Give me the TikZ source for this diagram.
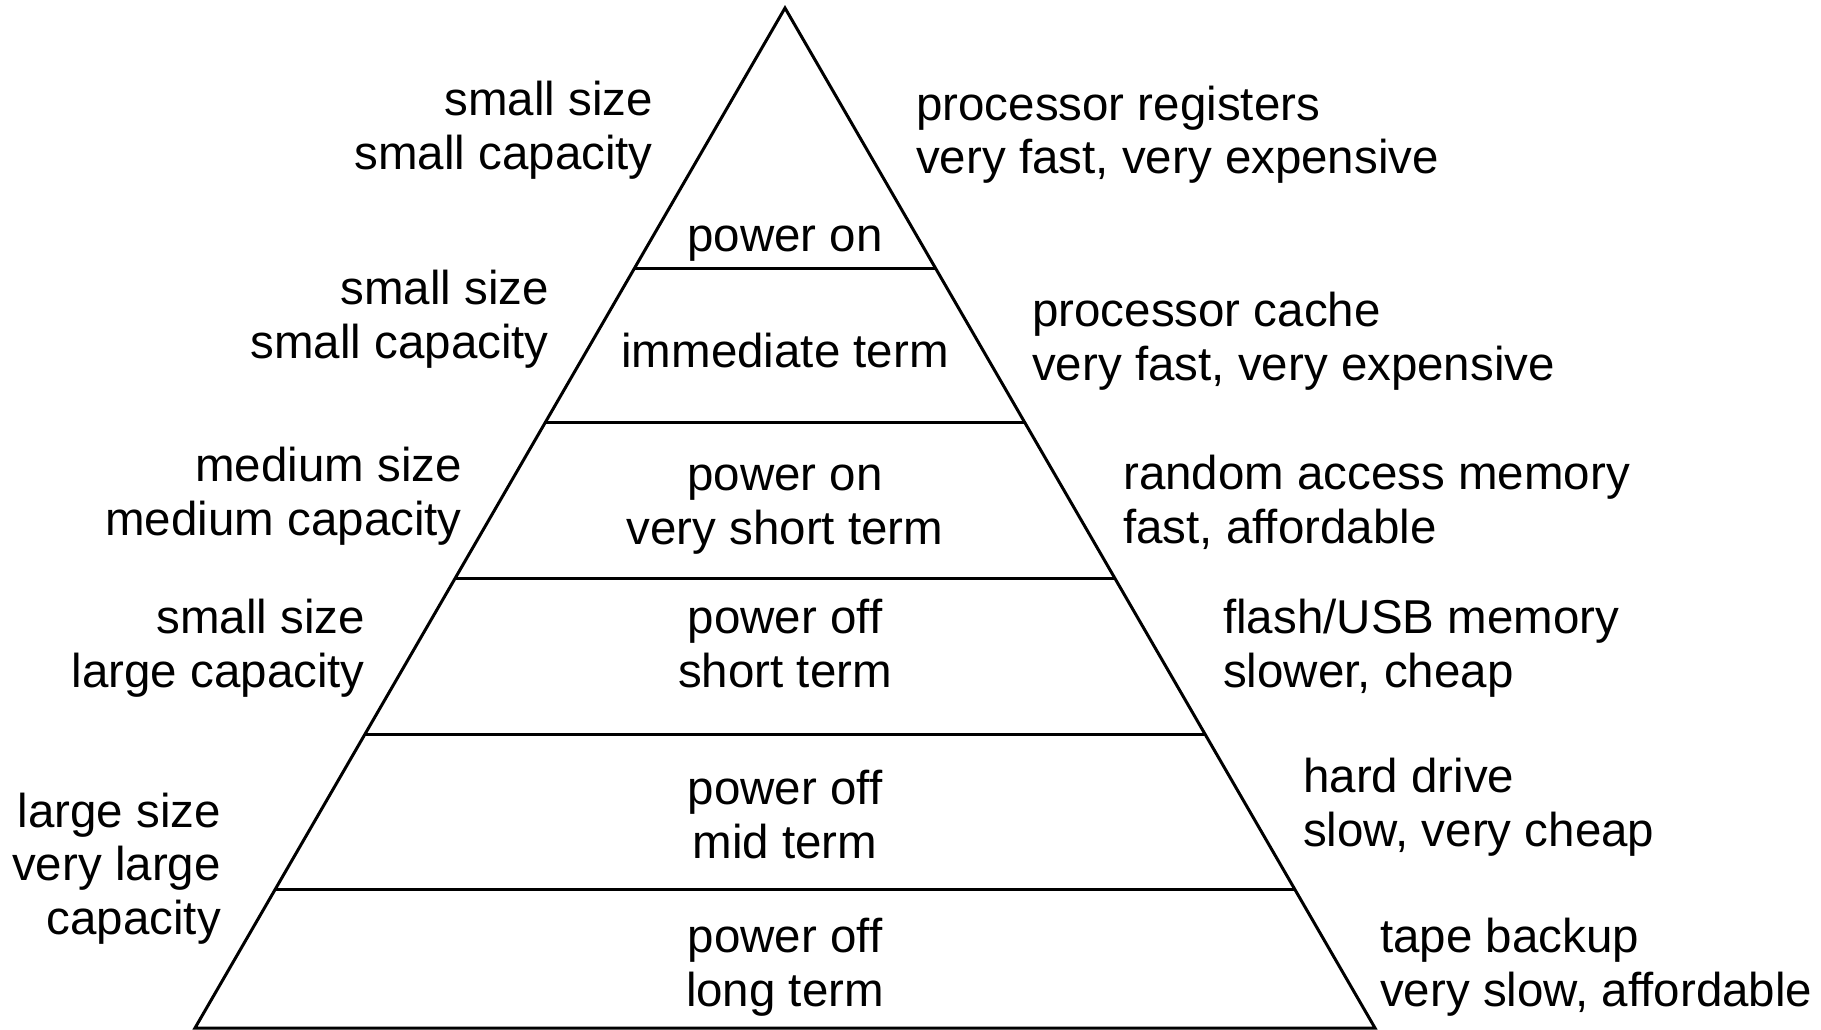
\documentclass[tikz,border=0pt]{standalone}
\usepackage{fontspec}
\setmainfont{Liberation Sans}
\usetikzlibrary{calc}
\begin{document}
\begin{tikzpicture}[x=1pt,y=-1pt,
  edge/.style={line width=3pt, line join=miter},
  lbl/.style={inner sep=0pt, font=\fontsize{47.5}{53.4}\selectfont},
  % multi-line labels are placed by the baseline of their last line
  leftlbl/.style={lbl, align=right, anchor=base east},
  rightlbl/.style={lbl, align=left, anchor=base west},
  midlbl/.style={lbl, align=center, anchor=base}]
\useasboundingbox (0,0) rectangle (1821,1030);
% pyramid outline
\coordinate (apex) at (785,8);
\coordinate (bl) at (195,1028);
\coordinate (br) at (1375,1028);
\draw[edge] (apex) -- (bl) -- (br) -- cycle;
% level dividers
\foreach \t [count=\i] in {0.2552,0.4067,0.5592,0.7118,0.8643}
  \draw[edge] ($(apex)!\t!(bl)$) coordinate (d\i l) -- ($(apex)!\t!(br)$) coordinate (d\i r);
% level contents
\node[midlbl] (c1) at (785,251) {power on};
\node[midlbl] (c2) at (785,367) {immediate term};
\node[midlbl] (c3) at (785,544) {power on\\very short term};
\node[midlbl] (c4) at (785,687) {power off\\short term};
\node[midlbl] (c5) at (785,858) {power off\\mid term};
\node[midlbl] (c6) at (785,1006) {power off\\long term};
% size and capacity
\node[leftlbl] (l1) at (653,169) {small size\\small capacity};
\node[leftlbl] (l2) at (549,358) {small size\\small capacity};
\node[leftlbl] (l3) at (462,535) {medium size\\medium capacity};
\node[leftlbl] (l4) at (365,687) {small size\\large capacity};
\node[leftlbl] (l5) at (221,934) {large size\\very large\\capacity};
% storage technology
\node[rightlbl] (r1) at (916,174) {processor registers\\very fast, very expensive};
\node[rightlbl] (r2) at (1032,380) {processor cache\\very fast, very expensive};
\node[rightlbl] (r3) at (1123,543) {random access memory\\fast, affordable};
\node[rightlbl] (r4) at (1223,687) {flash/USB memory\\slower, cheap};
\node[rightlbl] (r5) at (1303,846) {hard drive\\slow, very cheap};
\node[rightlbl] (r6) at (1380,1006) {tape backup\\very slow, affordable};
\end{tikzpicture}
\end{document}
